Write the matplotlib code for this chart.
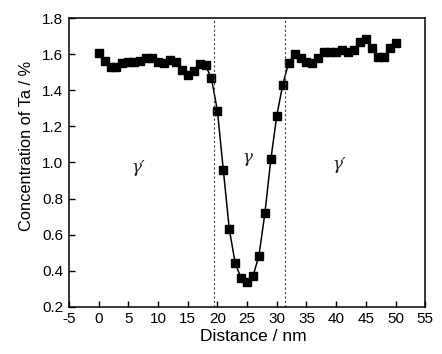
import matplotlib
matplotlib.use("Agg")
import matplotlib.pyplot as plt

distance = list(range(0, 51))
concentration = [
    1.605, 1.564, 1.530, 1.530, 1.553, 1.558, 1.558, 1.564, 1.577, 1.577,
    1.556, 1.550, 1.567, 1.558, 1.512, 1.483, 1.508, 1.545, 1.538, 1.466,
    1.287, 0.958, 0.632, 0.442, 0.359, 0.336, 0.371, 0.484, 0.719, 1.017,
    1.259, 1.429, 1.553, 1.601, 1.580, 1.558, 1.550, 1.580, 1.613, 1.613,
    1.613, 1.623, 1.610, 1.623, 1.669, 1.682, 1.636, 1.582, 1.582, 1.632,
    1.660,
]
boundaries = [19.4, 31.4]
phase_labels = ["γ′", "γ", "γ′"]
phase_x = [6.6, 25.0, 40.5]
phase_y = [0.97, 1.03, 0.99]
yticks = [0.2, 0.4, 0.6, 0.8, 1.0, 1.2, 1.4, 1.6, 1.8]

plt.rcParams['font.family'] = ['Liberation Sans', 'DejaVu Sans']
plt.rcParams['axes.unicode_minus'] = False

fig = plt.figure(figsize=(4.42, 3.54), dpi=100)
ax = fig.add_axes([0.156, 0.133, 0.806, 0.816])

ax.plot(distance, concentration, '-', color='black', lw=1.1,
        marker='s', markersize=5.2, markerfacecolor='black', markeredgecolor='black')

for b in boundaries:
    ax.axvline(b, color='#444444', lw=0.8, ls=(0, (2, 2)))

for lab, x, y in zip(phase_labels, phase_x, phase_y):
    ax.text(x, y, lab, fontsize=12, ha='center', va='center', color='#222222',
            family=['DejaVu Serif'], style='italic')

ax.set_xlim(-5, 55)
ax.set_ylim(0.2, 1.8)
ax.set_xticks(range(-5, 56, 5))
ax.set_yticks(yticks)
ax.set_yticklabels([f"{v:.1f}" for v in yticks])
ax.tick_params(direction='in', length=4, width=1, labelsize=11, pad=4)
for s in ax.spines.values():
    s.set_linewidth(1.1)

ax.set_xlabel("Distance / nm", fontsize=12.5)
ax.xaxis.set_label_coords(0.517, -0.075)
ax.set_ylabel("Concentration of Ta / %", fontsize=11.8, va='center')
ax.yaxis.set_label_coords(-0.118, 0.557)

fig.savefig("out.png", dpi=100, facecolor='white')
